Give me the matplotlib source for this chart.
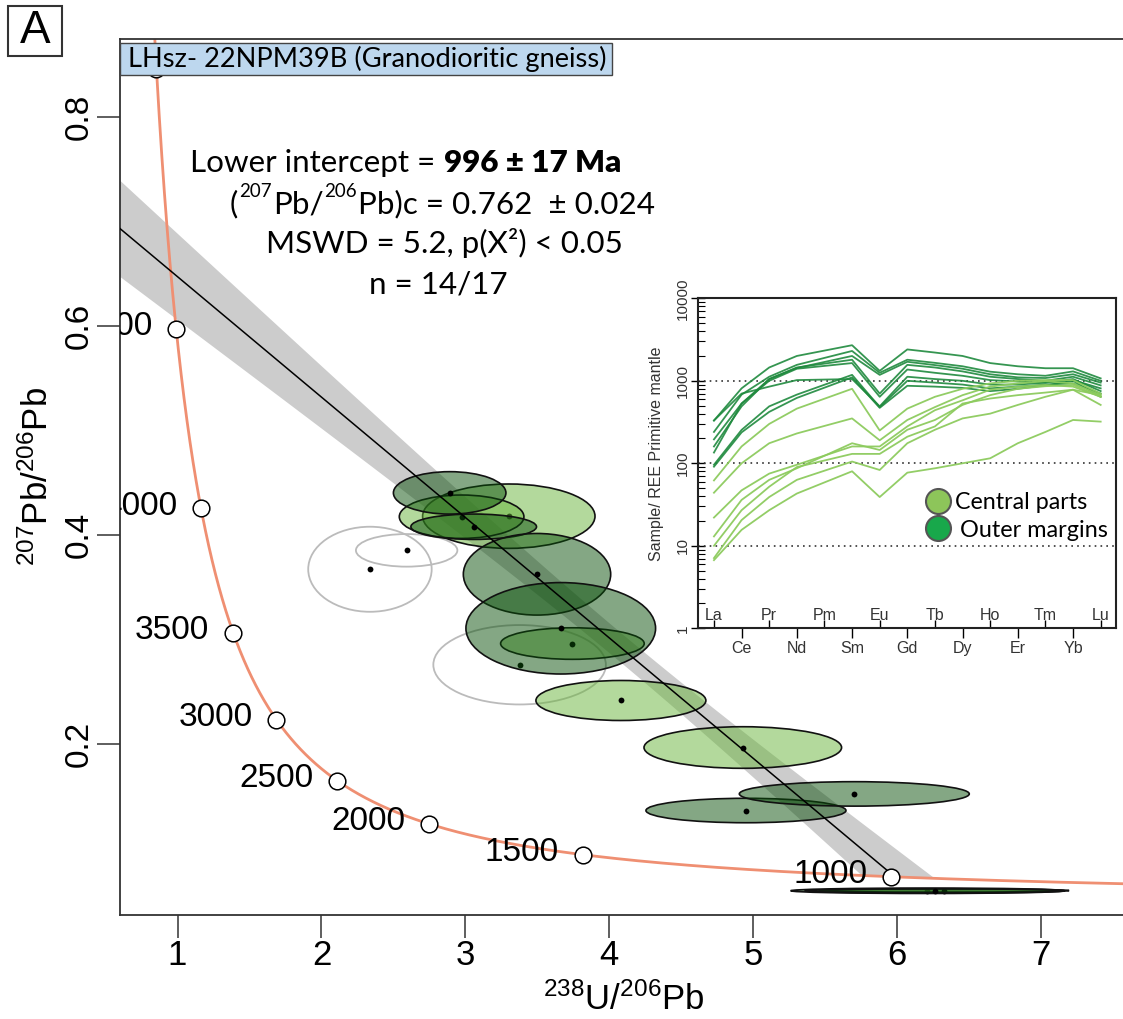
import numpy as np
import matplotlib
matplotlib.use("Agg")
import matplotlib.pyplot as plt
from matplotlib.patches import Ellipse, Rectangle
from matplotlib.lines import Line2D
from matplotlib import transforms
from matplotlib.ticker import LogLocator, NullFormatter

plt.rcParams["font.family"] = ["Liberation Sans", "DejaVu Sans"]
plt.rcParams["mathtext.fontset"] = "custom"
plt.rcParams["mathtext.rm"] = "Liberation Sans"
plt.rcParams["mathtext.it"] = "Liberation Sans:italic"
plt.rcParams["mathtext.bf"] = "Liberation Sans:bold"

# ------------------------------------------------------------------ data
sample_name = "LHsz- 22NPM39B (Granodioritic gneiss)"
lower_intercept_ma = 996
lower_intercept_err = 17
common_pb = 0.762
common_pb_err = 0.024
mswd = 5.2
n_used, n_total = 14, 17

# error ellipses (Tera-Wasserburg): centre, full width, full height, class
ell_x = [2.337, 2.592, 3.302, 2.974, 2.891, 3.058, 3.498, 3.377, 3.744, 3.663,
         4.081, 4.928, 4.950, 5.703, 6.211, 6.326, 6.263]
ell_y = [0.3668, 0.3849, 0.4176, 0.4171, 0.4399, 0.4075, 0.3620, 0.2754, 0.2957, 0.3103,
         0.2412, 0.1962, 0.1359, 0.1518, 0.0591, 0.0593, 0.0590]
ell_w = [0.858, 0.705, 1.198, 0.866, 0.782, 0.873, 1.024, 1.199, 0.998, 1.318,
         1.181, 1.373, 1.390, 1.598, 1.900, 1.740, 1.810]
ell_h = [0.0814, 0.0312, 0.0616, 0.0415, 0.0406, 0.0243, 0.0781, 0.0760, 0.0302, 0.0875,
         0.0383, 0.0398, 0.0234, 0.0234, 0.0052, 0.0030, 0.0040]
ell_kind = ["excluded", "excluded", "central", "central", "margin", "margin", "margin",
            "excluded", "central", "margin", "central", "central", "margin", "margin",
            "margin", "central", "margin"]

# half-width of the discordia envelope: sqrt(h0^2 + k^2 (x - xc)^2)
band_h0, band_k, band_xc = 0.0142, 0.0125, 4.1

concordia_ages = [1000, 1500, 2000, 2500, 3000, 3500, 4000, 4500, 5000]
x_ticks = [1, 2, 3, 4, 5, 6, 7]
y_ticks = [0.2, 0.4, 0.6, 0.8]
y_tick_labels = ["0.2", "0.4", "0.6", "0.8"]

# REE patterns normalised to primitive mantle (Pm not analysed)
ree_all = ["La", "Ce", "Pr", "Nd", "Pm", "Sm", "Eu", "Gd", "Tb", "Dy", "Ho", "Er", "Tm", "Yb", "Lu"]
ree_measured = ["La", "Ce", "Pr", "Nd", "Sm", "Eu", "Gd", "Tb", "Dy", "Ho", "Er", "Tm", "Yb", "Lu"]
outer_margins = [
    [330, 810, 1450, 2000, 2700, 1320, 2400, 2200, 2000, 1640, 1500, 1420, 1420, 1070],
    [240, 680, 1120, 1560, 2300, 1250, 1800, 1650, 1500, 1290, 1200, 1150, 1300, 1000],
    [195, 530, 1050, 1430, 2000, 1180, 1700, 1550, 1400, 1200, 1100, 1080, 1200, 950],
    [160, 490, 1050, 1450, 1800, 700, 1560, 1450, 1300, 1120, 1050, 1000, 1120, 880],
    [135, 530, 1000, 1400, 1640, 640, 1370, 1250, 1150, 1020, 980, 950, 1020, 810],
    [330, 700, 850, 1020, 1050, 490, 1120, 1050, 1000, 900, 900, 950, 1050, 750],
    [96, 254, 490, 680, 1180, 480, 1000, 950, 900, 810, 850, 900, 930, 700],
    [91, 237, 420, 620, 1100, 470, 870, 850, 820, 750, 800, 880, 1000, 640],
]
central_parts = [
    [62, 160, 300, 460, 800, 250, 460, 640, 800, 930, 1000, 1020, 1020, 700],
    [44, 100, 175, 230, 350, 190, 335, 480, 670, 850, 930, 990, 930, 670],
    [22, 47, 75, 96, 160, 160, 280, 440, 580, 780, 850, 890, 850, 640],
    [13, 36, 63, 87, 175, 145, 255, 335, 510, 670, 800, 860, 890, 640],
    [10, 27, 52, 90, 130, 130, 210, 280, 530, 610, 670, 720, 780, 510],
    [7.1, 20.5, 39, 63, 105, 83, 175, 255, 350, 400, 510, 640, 780, 670],
    [6.7, 15.6, 27, 43, 80, 39, 77, 87, 100, 115, 175, 240, 335, 320],
]
legend_labels = ["Central parts", "Outer margins"]

# ------------------------------------------------------------------ helpers
L238, L235, U85 = 1.55125e-4, 9.8485e-4, 137.818   # per Myr


def tera_wasserburg(t_ma):
    t = np.asarray(t_ma, dtype=float)
    e8 = np.expm1(L238 * t)
    e5 = np.expm1(L235 * t)
    return 1.0 / e8, e5 / e8 / U85


W, H = 1123, 1019
fig = plt.figure(figsize=(W / 100, H / 100), dpi=100, facecolor="white")
renderer = fig.canvas.get_renderer()


def fx(px):
    return px / W


def fy(py):
    return 1 - py / H


def text_width(txt, size, **kw):
    t = fig.text(0, 0, txt, fontsize=size, **kw)
    w = t.get_window_extent(renderer).width
    t.remove()
    return w


def draw_runs(x_left, baseline, runs, family, zorder=20):
    x = x_left
    for txt, size, weight, rise, gap in runs:
        t = fig.text(fx(x), fy(baseline - rise), txt, fontsize=size, fontweight=weight,
                     family=family, ha="left", va="baseline", zorder=zorder)
        x += t.get_window_extent(renderer).width + gap


# ------------------------------------------------------------------ main axes
ax = fig.add_axes([fx(120), fy(915), fx(1128) - fx(120), fy(39) - fy(915)])
ax.set_xlim(0.6, 7.605)
ax.set_ylim(0.0359, 0.8743)

# concordia
t_curve = np.linspace(600, 5600, 3000)
cx, cy = tera_wasserburg(t_curve)
ax.plot(cx, cy, color="#ef8f72", lw=2.0, zorder=2)

# discordia and its envelope (envelope stops at the lower intercept side of the concordia)
x_li, y_li = tera_wasserburg(lower_intercept_ma)
slope = (y_li - common_pb) / x_li
xs = np.linspace(0.3, 7.5, 1500)
yline = common_pb + slope * xs
half = np.sqrt(band_h0 ** 2 + band_k ** 2 * (xs - band_xc) ** 2)
order = np.argsort(cx)
yconc = np.interp(xs, cx[order], cy[order])
upper = yline + half
near_li = xs > 3.0
lower = np.where(near_li, np.maximum(yline - half, yconc), yline - half)
keep = ~near_li | (upper > yconc)
ax.fill_between(xs, lower, upper, where=keep, interpolate=True,
                color="#cccccc", lw=0, zorder=1)
xd = np.array([0.5, x_li])
ax.plot(xd, common_pb + slope * xd, color="black", lw=1.1, zorder=30)

# ellipses and their centres
fills = {"central": (0.41, 0.71, 0.23, 0.5), "margin": (0.043, 0.314, 0.043, 0.5)}
for i, (ex, ey, ew, eh, kind) in enumerate(zip(ell_x, ell_y, ell_w, ell_h, ell_kind)):
    z = 3 + i * 0.01
    if kind == "excluded":
        e = Ellipse((ex, ey), ew, eh, fc="none", ec="#bbbbbb", lw=1.3, zorder=z)
    else:
        e = Ellipse((ex, ey), ew, eh, fc=fills[kind], ec="#111111", lw=1.2, zorder=z)
    ax.add_patch(e)
    ax.plot([ex], [ey], "o", ms=4.2, color="black", mec="none", zorder=z + 0.005)

# age markers on the concordia
ages_x, ages_y = tera_wasserburg(concordia_ages)
ax.plot(ages_x, ages_y, "o", ms=12, mfc="white", mec="black", mew=1.1, zorder=40)
for age, ax_, ay_ in zip(concordia_ages, ages_x, ages_y):
    ax.annotate(f"{age}", xy=(ax_, ay_), xytext=(-17.3, 1.5), textcoords="offset points",
                ha="right", va="center", fontsize=24, clip_on=True, zorder=41)

# axes decoration
for s in ["left", "bottom", "top"]:
    ax.spines[s].set_color("#333333")
    ax.spines[s].set_linewidth(1.3)
ax.spines["right"].set_visible(False)
ax.set_xticks(x_ticks)
ax.set_yticks(y_ticks)
ax.set_yticklabels(y_tick_labels)
ax.tick_params(axis="both", direction="out", length=16.5, width=1.1, color="#333333")
ax.tick_params(axis="x", labelsize=25, pad=0.5)
ax.tick_params(axis="y", labelsize=24, pad=1.5, labelrotation=90)
for lbl in ax.get_yticklabels():
    lbl.set_va("center")
ax.set_xlabel(r"$^{238}$U/$^{206}$Pb", fontsize=25)
ax.xaxis.label.set_va("center")
ax.xaxis.set_label_coords(0.5, -(1000 - 915) / 876)
ax.set_ylabel(r"$^{207}$Pb/$^{206}$Pb", fontsize=25)
ax.yaxis.label.set_va("center")
ax.yaxis.set_label_coords(-(120 - 38) / 1008, 0.5)

# ------------------------------------------------------------------ statistics text
lato = ["Lato", "DejaVu Sans"]
base = 18.0
line3 = f"MSWD = {mswd}, p(X²) < 0.05"
S = base * 357 / text_width(line3, base, family=lato)
em = S * 100 / 72
sup = 0.6 * S
rise = 0.53 * em
draw_runs(190, 171.7, [("Lower intercept =", S, "normal", 0, 0.28 * em),
                       (f"{lower_intercept_ma} ± {lower_intercept_err} Ma", S, "heavy", 0, 0)], lato)
draw_runs(230, 213.3, [("(", S, "normal", 0, 1),
                       ("207", sup, "normal", rise, 1),
                       ("Pb/", S, "normal", 0, 1),
                       ("206", sup, "normal", rise, 1),
                       (f"Pb)c = {common_pb}  ± {common_pb_err}", S, "normal", 0, 0)], lato)
draw_runs(266, 253.3, [(line3, S, "normal", 0, 0)], lato)
draw_runs(369, 293.3, [(f"n = {n_used}/{n_total}", S, "normal", 0, 0)], lato)

# sample name box
fig.add_artist(Rectangle((fx(120), fy(75)), fx(612) - fx(120), fy(42.7) - fy(75),
                         transform=fig.transFigure, fc="#bdd7ee", ec="#444444", lw=1.0, zorder=15))
ts = 19 * 479 / text_width(sample_name, 19, family=lato)
fig.text(fx(128), fy(66.7), sample_name, fontsize=ts, family=lato, ha="left", va="baseline",
         zorder=16)

# panel letter
fig.add_artist(Rectangle((fx(8), fy(56)), fx(62) - fx(8), fy(6) - fy(56),
                         transform=fig.transFigure, fc="white", ec="#333333", lw=1.5, zorder=15))
fig.text(fx(35), fy(31), "A", fontsize=33, ha="center", va="center", zorder=16)

# ------------------------------------------------------------------ REE inset
ax_in = fig.add_axes([fx(698.3), fy(628.3), fx(1116) - fx(698.3), fy(298.3) - fy(628.3)])
ax_in.set_facecolor("white")
pos = [ree_all.index(e) for e in ree_measured]
for vals in outer_margins:
    ax_in.plot(pos, vals, color="#1f8a3e", lw=1.3, alpha=0.9, zorder=3)
for vals in central_parts:
    ax_in.plot(pos, vals, color="#8dcb5e", lw=1.3, alpha=0.95, zorder=4)
for v in (10, 100, 1000):
    ax_in.axhline(v, color="#333333", lw=1.2, ls=(0, (1, 2.5)), zorder=2)
ax_in.set_yscale("log")
ax_in.set_ylim(1, 1e4)
ax_in.set_xlim(-0.567, 14.555)
ax_in.set_yticks([1, 10, 100, 1000, 10000])
ax_in.set_yticklabels(["1", "10", "100", "1000", "10000"])
ax_in.yaxis.set_minor_locator(LogLocator(base=10, subs=range(2, 10)))
ax_in.yaxis.set_minor_formatter(NullFormatter())
ax_in.tick_params(axis="y", which="major", direction="inout", length=10, width=1.0,
                  labelsize=11, pad=1.2, labelrotation=90, labelcolor="#333333")
ax_in.tick_params(axis="y", which="minor", direction="in", length=5, width=0.8)
for lbl in ax_in.get_yticklabels():
    lbl.set_va("center")
inner_idx = list(range(0, 15, 2))
outer_idx = list(range(1, 15, 2))
ax_in.set_xticks(inner_idx)
ax_in.set_xticklabels([])
ax_in.set_xticks(outer_idx, minor=True)
ax_in.set_xticklabels([ree_all[i] for i in outer_idx], minor=True)
ax_in.tick_params(axis="x", which="major", direction="in", length=6, width=1.0)
ax_in.tick_params(axis="x", which="minor", direction="out", length=7, width=1.0, pad=2,
                  labelsize=11.5, labelcolor="#333333")
blend = transforms.blended_transform_factory(ax_in.transData, ax_in.transAxes)
for i in inner_idx:
    ax_in.text(i, 0.04, ree_all[i], transform=blend, ha="center", va="center",
               fontsize=11.5, color="#333333")
for s in ax_in.spines.values():
    s.set_color("#222222")
    s.set_linewidth(1.5)
ax_in.set_ylabel("Sample/ REE Primitive mantle", fontsize=11.5, color="#333333")
ax_in.yaxis.label.set_va("center")
ax_in.yaxis.set_label_coords((657 - 698.3) / 417.7, (628.3 - 454) / 330)

# inset legend
leg_fc = ["#8dc55a", "#18a84b"]
leg_xy = [(938, 500.5), (937.5, 528.3)]
leg_tx = [(955, 509.3), (960, 536.7)]
leg_w = [133, 149]
for lab, fc, (mx, my), (tx, tb), tw in zip(legend_labels, leg_fc, leg_xy, leg_tx, leg_w):
    fig.add_artist(Line2D([fx(mx)], [fy(my)], transform=fig.transFigure, marker="o", ms=18,
                          mfc=fc, mec="#555555", mew=1.5, ls="none", zorder=20))
    ls_ = 16 * tw / text_width(lab, 16, family=lato)
    fig.text(fx(tx), fy(tb), lab, fontsize=ls_, family=lato, ha="left", va="baseline", zorder=20)

fig.savefig("out.png", dpi=100, facecolor="white")
